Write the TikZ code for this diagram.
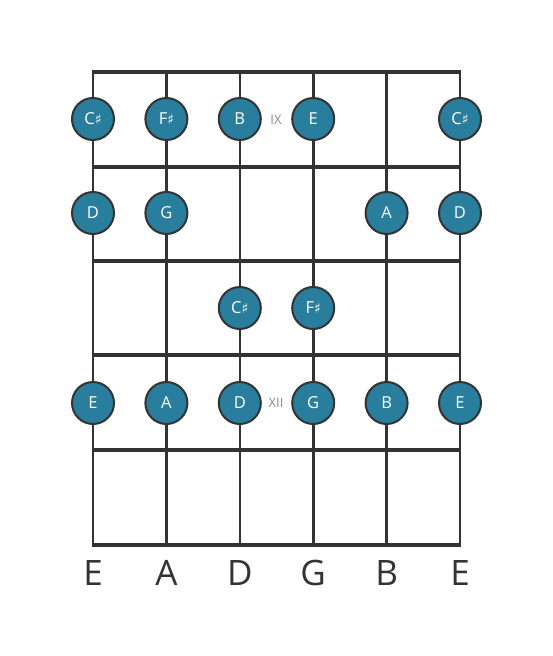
\documentclass[tikz,border=0pt]{standalone}
\usepackage{fontspec}
\setmainfont{Open Sans}
\newfontfamily\symfont{DejaVu Sans}
\definecolor{notefill}{HTML}{287E9C}
\definecolor{linegray}{HTML}{333333}
\definecolor{markgray}{HTML}{8A8A8A}
\newcommand{\shrp}{{\symfont\fontsize{14}{14}\selectfont ♯}}
\begin{document}
\begin{tikzpicture}[x=1pt, y=-1pt,
    note/.style={circle, draw=linegray, line width=2pt, fill=notefill, text=white, minimum size=42pt, inner sep=0pt, font=\fontsize{16.5}{16.5}\selectfont},
    fretline/.style={linegray, line width=4.5pt},
    stringline/.style={linegray, line width=2.6pt},
    marker/.style={text=markgray, font=\fontsize{13}{13}\selectfont},
    tuning/.style={text=linegray, font=\fontsize{35}{35}\selectfont}]
  \useasboundingbox (0,0) rectangle (553,656);
  % strings
  \foreach \s/\x in {1/93, 2/166.4, 3/239.8, 4/313.2, 5/386.6, 6/460} {
    \coordinate (t\s) at (\x,72);
    \coordinate (b\s) at (\x,545);
    \draw[stringline] (t\s) -- (b\s);
  }
  % frets
  \foreach \f/\y in {0/72, 1/167, 2/261, 3/355, 4/450, 5/545} {
    \coordinate (l\f) at (91.7,\y);
    \coordinate (r\f) at (461.3,\y);
    \draw[fretline] (l\f) -- (r\f);
  }
  % position markers
  \node (ix) at (276,120) [marker] {IX};
  \node (xii) at (276,403) [marker] {XII};
  % notes
  \node (n11) at (93,119) [note] {C\shrp};
  \node (n12) at (166.4,119) [note] {F\shrp};
  \node (n13) at (239.8,119) [note] {B};
  \node (n14) at (313.2,119) [note] {E};
  \node (n16) at (460,119) [note] {C\shrp};
  \node (n21) at (93,213) [note] {D};
  \node (n22) at (166.4,213) [note] {G};
  \node (n25) at (386.6,213) [note] {A};
  \node (n26) at (460,213) [note] {D};
  \node (n33) at (239.8,308) [note] {C\shrp};
  \node (n34) at (313.2,308) [note] {F\shrp};
  \node (n41) at (93,403) [note] {E};
  \node (n42) at (166.4,403) [note] {A};
  \node (n43) at (239.8,403) [note] {D};
  \node (n44) at (313.2,403) [note] {G};
  \node (n45) at (386.6,403) [note] {B};
  \node (n46) at (460,403) [note] {E};
  % tuning
  \foreach \s/\x/\name in {1/93/E, 2/166.4/A, 3/239.8/D, 4/313.2/G, 5/386.6/B, 6/460/E}
    \node (lab\s) at (\x,573) [tuning] {\name};
\end{tikzpicture}
\end{document}
